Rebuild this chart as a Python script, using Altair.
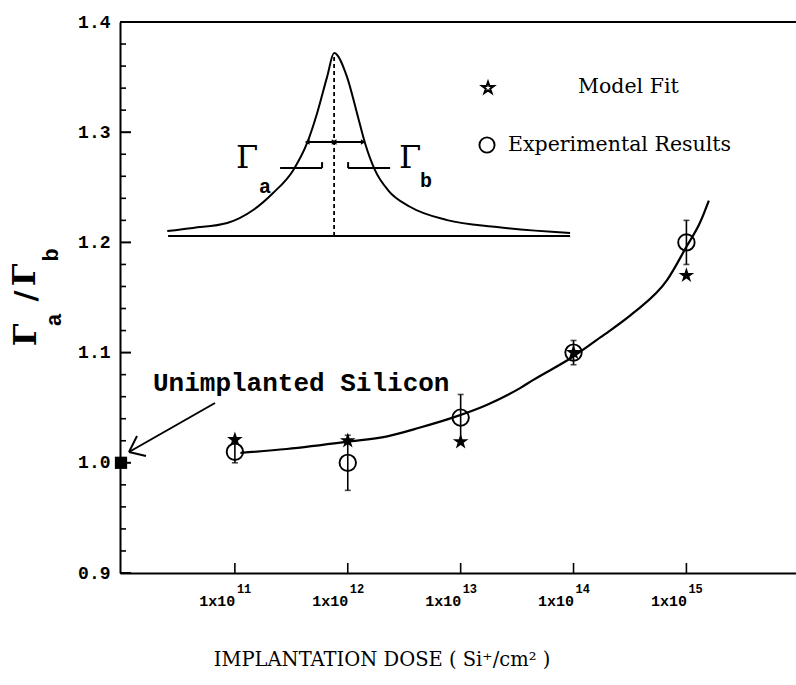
import altair as alt
import pandas as pd

# ---- measured ratios -------------------------------------------------------
dose = [1e11, 1e12, 1e13, 1e14, 1e15]
exp_ratio = [1.010, 1.000, 1.041, 1.100, 1.200]
exp_err = [0.010, 0.025, 0.021, 0.011, 0.020]
fit_ratio = [1.021, 1.020, 1.019, 1.100, 1.170]
exponents = ["11", "12", "13", "14", "15"]

# smooth guide curve through the data
curve_dose = [1.12e11, 2.88e11, 9.8e11, 2.24e12, 4.37e12, 8.5e12, 1.7e13, 3.39e13,
              4.37e13, 9.8e13, 1.74e14, 3.39e14, 6.76e14, 1.0e15, 1.32e15, 1.58e15]
curve_ratio = [1.009, 1.0125, 1.019, 1.024, 1.032, 1.041, 1.0525, 1.068,
               1.075, 1.096, 1.114, 1.136, 1.166, 1.196, 1.218, 1.238]

unimplanted_ratio = [1.0]

y_major = [0.9, 1.0, 1.1, 1.2, 1.3, 1.4]
y_minor = [0.92, 0.94, 0.96, 0.98, 1.02, 1.04, 1.06, 1.08, 1.12, 1.14, 1.16, 1.18,
           1.22, 1.24, 1.26, 1.28, 1.32, 1.34, 1.36, 1.38]

# ---- inset: asymmetric line shape (offset in half-widths, relative height) --
peak_u = [-5.96, -5.04, -3.82, -2.89, -2.18, -1.46, -0.96, -0.61, -0.25, 0.0,
          0.46, 0.82, 1.10, 1.46, 1.93, 2.71, 4.04, 5.82, 8.43]
peak_v = [0.027, 0.044, 0.071, 0.142, 0.235, 0.36, 0.51, 0.67, 0.87, 1.0,
          0.87, 0.67, 0.51, 0.36, 0.25, 0.16, 0.087, 0.049, 0.016]
base_u = [-5.93, 8.43]
half_v = 0.514
half_left = [-0.96, 0.0]
half_right = [0.0, 1.04]
bracket_v = 0.372
bracket_top = 0.404
bracket_left = [-1.93, -0.43]
bracket_right = [0.50, 2.00]

# where the inset sits on the plot: centre (log10 dose), decades per half-width,
# baseline ratio and ratio span of the peak height
INSET_LOG_CENTRE = 11.879
INSET_DECADES_PER_U = 0.248
INSET_BASE = 1.2058
INSET_SPAN = 0.166

W, H = 676, 551
MONO = "Liberation Mono"
SERIF = "DejaVu Serif"
STAR = ("M0,-1L0.2245,-0.309L0.9511,-0.309L0.3633,0.118L0.5878,0.809L0,0.382"
        "L-0.5878,0.809L-0.3633,0.118L-0.9511,-0.309L-0.2245,-0.309Z")

x_axis = alt.Axis(values=dose, labelExpr="'1x10'", labelAlign="right", labelBaseline="middle",
                  labelFont=MONO, labelFontWeight="bold", labelFontSize=15, labelColor="black",
                  labelPadding=27, ticks=False, grid=False, title=None, orient="bottom",
                  domainColor="black", domainWidth=2, labelFlush=False, labelOverlap=False)
y_axis = alt.Axis(values=y_major, format=".1f", labelFont=MONO, labelFontWeight="bold",
                  labelFontSize=18, labelColor="black", labelPadding=10, ticks=False,
                  grid=False, title=None, orient="left", domainColor="black", domainWidth=2,
                  labelFlush=False, labelOverlap=False)
x_scale = alt.Scale(type="log", domain=[9.6e9, 9.35e15], nice=False)
y_scale = alt.Scale(domain=[0.9, 1.4], nice=False, zero=False)


def X(field="dose"):
    return alt.X(f"{field}:Q", scale=x_scale, axis=x_axis)


def Y(field="ratio"):
    return alt.Y(f"{field}:Q", scale=y_scale, axis=y_axis)


one = pd.DataFrame({"k": [0]})

exp_df = pd.DataFrame({"dose": dose, "ratio": exp_ratio,
                       "lo": [r - e for r, e in zip(exp_ratio, exp_err)],
                       "hi": [r + e for r, e in zip(exp_ratio, exp_err)]})
caps_df = pd.DataFrame({"dose": dose + dose, "ratio": list(exp_df["lo"]) + list(exp_df["hi"])})
fit_df = pd.DataFrame({"dose": dose, "ratio": fit_ratio})
curve_df = pd.DataFrame({"dose": curve_dose, "ratio": curve_ratio})
exp_lbl = pd.DataFrame({"dose": dose, "e": exponents})

layers = []

layers.append(alt.Chart(curve_df).mark_line(color="black", strokeWidth=2.2,
                                            interpolate="monotone").encode(x=X(), y=Y()))
layers.append(alt.Chart(exp_df).mark_rule(color="black", strokeWidth=1.6).encode(
    x=X(), y=Y("lo"), y2="hi:Q"))
layers.append(alt.Chart(caps_df).mark_tick(orient="horizontal", color="black", size=6,
                                           thickness=1.6).encode(x=X(), y=Y()))
layers.append(alt.Chart(exp_df).mark_point(shape="circle", size=270, filled=False, color="black",
                                           strokeWidth=1.9, opacity=1).encode(x=X(), y=Y()))
layers.append(alt.Chart(fit_df).mark_point(shape=STAR, size=270, filled=True, color="black",
                                           opacity=1).encode(x=X(), y=Y()))
layers.append(alt.Chart(pd.DataFrame({"ratio": unimplanted_ratio})).mark_square(
    size=150, color="black", opacity=1).encode(x=alt.value(1), y=Y()))

# inward tick marks
layers.append(alt.Chart(pd.DataFrame({"ratio": y_major})).mark_rule(
    color="black", strokeWidth=2).encode(y=Y(), x=alt.value(0), x2=alt.value(11)))
layers.append(alt.Chart(pd.DataFrame({"ratio": y_minor})).mark_rule(
    color="black", strokeWidth=1.6).encode(y=Y(), x=alt.value(0), x2=alt.value(6)))
layers.append(alt.Chart(pd.DataFrame({"dose": dose})).mark_rule(
    color="black", strokeWidth=1.6).encode(x=X(), y=alt.value(H), y2=alt.value(H - 10)))
layers.append(alt.Chart(one).mark_rule(color="black", strokeWidth=2).encode(
    x=alt.value(0), x2=alt.value(W), y=alt.value(0)))
layers.append(alt.Chart(exp_lbl).mark_text(
    font=MONO, fontWeight="bold", fontSize=12, align="left", baseline="middle", dx=2
).encode(x=X(), y=alt.value(H + 16), text="e:N"))


def label(text, x, y, font, size, weight="normal", angle=0, align="left"):
    return alt.Chart(one).mark_text(text=text, font=font, fontSize=size, fontWeight=weight,
                                    angle=angle, align=align, baseline="middle",
                                    color="black").encode(x=alt.value(x), y=alt.value(y))


def segment(x1, y1, x2, y2, width=2):
    return alt.Chart(one).mark_rule(color="black", strokeWidth=width).encode(
        x=alt.value(x1), y=alt.value(y1), x2=alt.value(x2), y2=alt.value(y2))


# annotation for the unimplanted reference
layers.append(label("Unimplanted Silicon", 33, 361, MONO, 26, "bold"))
layers.append(segment(95, 381, 9, 430))
layers.append(segment(26, 434, 9, 430))
layers.append(segment(17, 414, 9, 430))

# legend
layers.append(alt.Chart(one).mark_point(shape=STAR, size=150, filled=False, color="black",
                                        strokeWidth=2, opacity=1).encode(
    x=alt.value(368), y=alt.value(66)))
layers.append(alt.Chart(one).mark_point(shape="circle", size=230, filled=False, color="black",
                                        strokeWidth=1.9, opacity=1).encode(
    x=alt.value(367), y=alt.value(123)))
layers.append(label("Model Fit", 458, 65, SERIF, 20.5))
layers.append(label("Experimental Results", 388, 123, SERIF, 20.5))

# axis titles
layers.append(label("IMPLANTATION DOSE ( Si\u207a/cm\u00b2 )", 262, 638, SERIF, 19.5, align="center"))
layers.append(label("\u0393", -94, 313, SERIF, 32, "bold", 270, "center"))
layers.append(label("a", -66, 298, MONO, 22, "bold", 270, "center"))
layers.append(label("/", -93, 274, SERIF, 30, "bold", 270, "center"))
layers.append(label("\u0393", -95, 253, SERIF, 32, "bold", 270, "center"))
layers.append(label("b", -69, 233, MONO, 22, "bold", 270, "center"))

# ---- inset drawing, placed in plot coordinates ------------------------------
to_dose = f"pow(10, {INSET_LOG_CENTRE} + {INSET_DECADES_PER_U} * datum.u)"
to_ratio = f"{INSET_BASE} + {INSET_SPAN} * datum.v"


def inset_chart(df):
    return alt.Chart(df).transform_calculate(dose=to_dose, ratio=to_ratio)


def inset_hline(u1, u2, v, width=2, dash=None):
    df = pd.DataFrame({"u": [u1], "v": [v], "u2": [u2]})
    kw = dict(color="black", strokeWidth=width)
    if dash:
        kw["strokeDash"] = dash
    return inset_chart(df).transform_calculate(
        dose2=f"pow(10, {INSET_LOG_CENTRE} + {INSET_DECADES_PER_U} * datum.u2)"
    ).mark_rule(**kw).encode(x=X(), x2="dose2:Q", y=Y())


def inset_vline(u, v1, v2, width=2, dash=None):
    df = pd.DataFrame({"u": [u], "v": [v1], "v2": [v2]})
    kw = dict(color="black", strokeWidth=width)
    if dash:
        kw["strokeDash"] = dash
    return inset_chart(df).transform_calculate(
        ratio2=f"{INSET_BASE} + {INSET_SPAN} * datum.v2"
    ).mark_rule(**kw).encode(x=X(), y=Y(), y2="ratio2:Q")


layers.append(inset_chart(pd.DataFrame({"u": peak_u, "v": peak_v})).mark_line(
    color="black", strokeWidth=2, interpolate="monotone").encode(x=X(), y=Y()))
layers.append(inset_hline(base_u[0], base_u[1], 0.0, 2.2))
layers.append(inset_vline(0.0, 0.0, 1.0, 1.8, [4, 3]))
layers.append(inset_hline(half_left[0], half_right[1], half_v, 1.8))
layers.append(inset_chart(pd.DataFrame({"u": [half_left[0], half_right[0]], "v": [half_v] * 2}))
              .mark_point(shape="triangle-left", filled=True, color="black", size=30, opacity=1)
              .encode(x=X(), y=Y()))
layers.append(inset_chart(pd.DataFrame({"u": [half_left[1], half_right[1]], "v": [half_v] * 2}))
              .mark_point(shape="triangle-right", filled=True, color="black", size=30, opacity=1)
              .encode(x=X(), y=Y()))
layers.append(inset_hline(bracket_left[0], bracket_left[1], bracket_v))
layers.append(inset_hline(bracket_right[0], bracket_right[1], bracket_v))
layers.append(inset_vline(bracket_left[1], bracket_v, bracket_top))
layers.append(inset_vline(bracket_right[0], bracket_v, bracket_top))

layers.append(label("\u0393", 127, 136, SERIF, 32, align="center"))
layers.append(label("a", 145, 165, MONO, 20, "bold", align="center"))
layers.append(label("\u0393", 290, 136, SERIF, 32, align="center"))
layers.append(label("b", 306, 159, MONO, 20, "bold", align="center"))

chart = alt.layer(*layers).properties(
    width=W, height=H, background="white",
    padding={"left": 120, "top": 22, "right": 0, "bottom": 112},
    autosize=alt.AutoSizeParams(type="none"),
).configure_view(stroke=None)

chart.save("out.html", embed_options={"renderer": "svg", "actions": False})
